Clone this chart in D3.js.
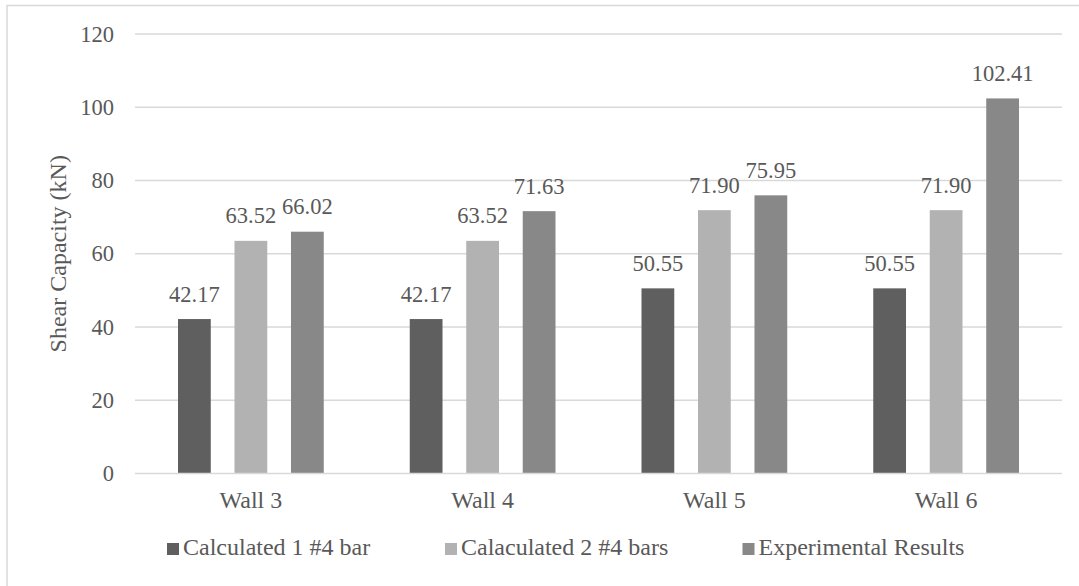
<!DOCTYPE html>
<html>
<head>
<meta charset="utf-8">
<script src="https://cdn.jsdelivr.net/npm/d3@7"></script>
<style>
  html, body { margin: 0; padding: 0; background: #fff; }
</style>
</head>
<body>
<svg id="chart" width="1079" height="586"></svg>
<script>
// Shear capacity per wall: calculated vs. experimental
const walls = ["Wall 3", "Wall 4", "Wall 5", "Wall 6"];
const seriesNames = ["Calculated 1 #4 bar", "Calaculated 2 #4 bars", "Experimental Results"];
const calc1 = [42.17, 42.17, 50.55, 50.55];
const calc2 = [63.52, 63.52, 71.90, 71.90];
const experimental = [66.02, 71.63, 75.95, 102.41];
const yTicks = [0, 20, 40, 60, 80, 100, 120];
const colors = ["#5f5f5f", "#b2b2b2", "#888888"];

const seriesValues = [calc1, calc2, experimental];

const FONT = "'Liberation Serif', 'Times New Roman', serif";
const TEXT_COLOR = "#595959";
const NUM_SIZE = "22.5px";
const WORD_SIZE = "24px";

const svg = d3.select("#chart");
const plot = { left: 135, right: 1062, top: 34, bottom: 473.5 };

function styleText(sel, size) {
  sel.style("font-family", FONT).style("font-size", size).attr("fill", TEXT_COLOR);
}

// chart frame (top and left edges)
svg.append("path")
  .attr("d", "M7,586 V5.5 H1079")
  .attr("fill", "none").attr("stroke", "#d9d9d9").attr("stroke-width", 1.5);

const x0 = d3.scaleBand().domain(walls).range([plot.left, plot.right]).paddingInner(0).paddingOuter(0);
const groupInset = 43;
const x1 = d3.scaleBand().domain(d3.range(seriesNames.length))
  .range([groupInset, x0.bandwidth() - groupInset]).paddingInner(0.42).paddingOuter(0);
const y = d3.scaleLinear().domain([0, 120]).range([plot.bottom, plot.top]);

// gridlines
svg.append("g").selectAll("line").data(yTicks.filter(d => d > 0)).join("line")
  .attr("x1", plot.left).attr("x2", plot.right)
  .attr("y1", d => y(d)).attr("y2", d => y(d))
  .attr("stroke", "#d9d9d9").attr("stroke-width", 1.3);

// y axis tick labels
const yAxis = d3.axisLeft(y).tickValues(yTicks).tickSize(0).tickPadding(21);
const gy = svg.append("g").attr("transform", `translate(${plot.left},0)`).call(yAxis);
gy.select(".domain").remove();
gy.selectAll("text").call(styleText, NUM_SIZE);

// bars
const groups = svg.append("g").selectAll("g").data(walls).join("g")
  .attr("transform", d => `translate(${x0(d)},0)`);

const cells = (d, i) => seriesValues.map((vals, s) => ({ s, v: vals[i] }));

groups.selectAll("rect")
  .data(cells)
  .join("rect")
  .attr("x", d => x1(d.s))
  .attr("width", x1.bandwidth())
  .attr("y", d => y(d.v))
  .attr("height", d => y(0) - y(d.v))
  .attr("fill", d => colors[d.s]);

// value labels
groups.selectAll("text.val")
  .data(cells)
  .join("text")
  .attr("class", "val")
  .attr("x", d => x1(d.s) + x1.bandwidth() / 2)
  .attr("y", d => y(d.v) - 17.5)
  .attr("text-anchor", "middle")
  .call(styleText, NUM_SIZE)
  .text(d => d.v.toFixed(2));

// x axis baseline
svg.append("line")
  .attr("x1", plot.left).attr("x2", plot.right)
  .attr("y1", y(0)).attr("y2", y(0))
  .attr("stroke", "#d9d9d9").attr("stroke-width", 1.5);

// category labels
const xAxis = d3.axisBottom(x0).tickSize(0).tickPadding(0);
const gx = svg.append("g").attr("transform", `translate(0,${y(0)})`).call(xAxis);
gx.select(".domain").remove();
gx.selectAll("text").attr("y", 34.5).attr("dy", null).call(styleText, WORD_SIZE);

// y axis title
svg.append("text")
  .attr("transform", `translate(66,${(plot.top + plot.bottom) / 2}) rotate(-90)`)
  .attr("text-anchor", "middle")
  .call(styleText, WORD_SIZE)
  .text("Shear Capacity (kN)");

// legend
const legendX = [167, 445, 742.5];
const legend = svg.append("g").selectAll("g").data(seriesNames).join("g")
  .attr("transform", (d, i) => `translate(${legendX[i]},555)`);
legend.append("rect")
  .attr("x", 0).attr("y", -12).attr("width", 12).attr("height", 12)
  .attr("fill", (d, i) => colors[i]);
legend.append("text")
  .attr("x", 16).attr("y", 0)
  .call(styleText, WORD_SIZE)
  .text(d => d);
</script>
</body>
</html>
